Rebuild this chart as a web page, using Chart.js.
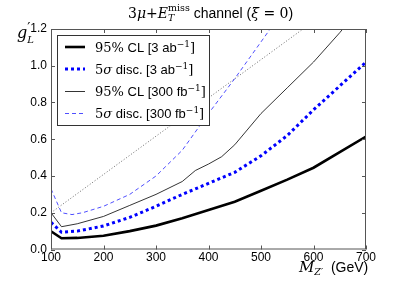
<!DOCTYPE html>
<html><head><meta charset="utf-8">
<script src="https://cdn.jsdelivr.net/npm/chart.js@4"></script>
<style>html,body{margin:0;padding:0;background:#fff}canvas{display:block}</style>
</head><body>
<canvas id="c" width="407" height="285"></canvas>
<script>
// ---- data (M_Z' in GeV, g'_L) ----
const massesCL3 = [100,120,150,200,250,300,350,400,450,500,550,600,650,700];
const cl3ab     = [0.099,0.061,0.063,0.075,0.10,0.13,0.17,0.215,0.26,0.32,0.38,0.445,0.53,0.615];
const massesDisc3 = [100,120,150,200,250,300,350,400,450,500,550,600,650,700];
const disc3ab   = [0.148,0.094,0.10,0.128,0.175,0.235,0.30,0.36,0.42,0.51,0.62,0.76,0.89,1.02];
const massesCL300 = [100,120,150,200,250,300,350,375,400,425,450,500,550,600,650,670];
const cl300fb   = [0.20,0.124,0.14,0.18,0.24,0.30,0.37,0.43,0.465,0.505,0.57,0.74,0.88,1.02,1.18,1.25];
const massesDisc300 = [100,120,140,160,200,250,300,350,400,450,500,525];
const disc300fb = [0.33,0.20,0.19,0.20,0.235,0.30,0.40,0.54,0.74,0.93,1.13,1.23];
const massesRef = [100,580];
const refLine   = [0.2,1.2];
const xTicks = [100,200,300,400,500,600,700];
const yTicks = [0.0,0.2,0.4,0.6,0.8,1.0,1.2];

const SANS = '"Liberation Sans", Arial, sans-serif';
const SERIF = '"DejaVu Serif", "Liberation Serif", serif';

function pts(xs, ys){ return xs.map((x,i)=>({x:x, y:ys[i]})); }

const series = [
  {label:'95% CL [3 ab⁻¹]', data:pts(massesCL3,cl3ab), borderColor:'#000', borderWidth:2.6, borderDash:[]},
  {label:'5σ disc. [3 ab⁻¹]', data:pts(massesDisc3,disc3ab), borderColor:'#0000ff', borderWidth:3, borderDash:[3,3]},
  {label:'95% CL [300 fb⁻¹]', data:pts(massesCL300,cl300fb), borderColor:'#000', borderWidth:0.8, borderDash:[]},
  {label:'5σ disc. [300 fb⁻¹]', data:pts(massesDisc300,disc300fb), borderColor:'#2222ff', borderWidth:0.8, borderDash:[4,3]},
  {label:'', data:pts(massesRef,refLine), borderColor:'#444', borderWidth:0.8, borderDash:[1,2]}
];

// rich text: segs = [{t, f, dy, back}]
function rich(ctx, x, y, segs){
  let cx = x, lastStart = x;
  segs.forEach(s=>{
    ctx.font = s.f;
    const w = ctx.measureText(s.t).width;
    let sx = s.back ? lastStart : cx;
    ctx.fillText(s.t, sx, y + (s.dy||0));
    if (s.back){ cx = Math.max(cx, sx + w); }
    else { lastStart = sx; cx = sx + w; }
  });
  return cx;
}

const deco = {
  id:'deco',
  afterDraw(chart){
    const ctx = chart.ctx, a = chart.chartArea;
    const xs = chart.scales.x, ys = chart.scales.y;
    ctx.save();
    ctx.strokeStyle = '#555'; ctx.lineWidth = 1; ctx.setLineDash([]);
    ctx.strokeRect(a.left+0.5, a.top+0.5, a.right-a.left-1, a.bottom-a.top-1);
    ctx.beginPath();
    xTicks.forEach(v=>{
      const px = Math.round(xs.getPixelForValue(v))+0.5;
      ctx.moveTo(px, a.bottom); ctx.lineTo(px, a.bottom-4);
      ctx.moveTo(px, a.top); ctx.lineTo(px, a.top+4);
    });
    yTicks.forEach(v=>{
      const py = Math.round(ys.getPixelForValue(v))+0.5;
      ctx.moveTo(a.left, py); ctx.lineTo(a.left+4, py);
      ctx.moveTo(a.right, py); ctx.lineTo(a.right-4, py);
    });
    ctx.stroke();

    ctx.fillStyle = '#000'; ctx.textBaseline = 'alphabetic'; ctx.textAlign = 'left';
    // title
    rich(ctx, 128, 18, [
      {t:'3', f:'14px '+SERIF},
      {t:'μ', f:'italic 14px '+SERIF},
      {t:'+', f:'14px '+SERIF},
      {t:'E', f:'italic 14px '+SERIF},
      {t:'T', f:'italic 9.5px '+SERIF, dy:3},
      {t:'miss', f:'9.5px '+SERIF, dy:-7, back:true},
      {t:' channel (', f:'14px '+SANS},
      {t:'ξ', f:'italic 14px '+SERIF},
      {t:' = 0', f:'14px '+SERIF},
      {t:')', f:'14px '+SANS}
    ]);
    // y label
    rich(ctx, 17, 38, [
      {t:'g', f:'italic 16px '+SERIF},
      {t:'′', f:'14px '+SERIF, dy:-5},
      {t:'L', f:'italic 10px '+SERIF, dy:5, back:true}
    ]);
    // x label
    rich(ctx, 299, 272, [
      {t:'M', f:'italic 15px '+SERIF},
      {t:'Z′', f:'italic 9.5px '+SERIF, dy:3},
      {t:'  (GeV)', f:'14px '+SANS}
    ]);

    // legend
    ctx.fillStyle = '#fff';
    ctx.fillRect(57, 35, 152, 90);
    ctx.strokeStyle = '#333'; ctx.lineWidth = 1;
    ctx.strokeRect(57.5, 35.5, 152, 90);
    const rowsY = [47, 69, 91.5, 113.5];
    const F = 13, FS = 9;
    const labels = [
      [{t:'95%', f:F+'px '+SERIF},{t:' CL [3 ab', f:F+'px '+SANS},{t:'−1', f:FS+'px '+SERIF, dy:-5},{t:']', f:F+'px '+SERIF}],
      [{t:'5', f:F+'px '+SERIF},{t:'σ', f:'italic '+F+'px '+SERIF},{t:' disc. [3 ab', f:F+'px '+SANS},{t:'−1', f:FS+'px '+SERIF, dy:-5},{t:']', f:F+'px '+SERIF}],
      [{t:'95%', f:F+'px '+SERIF},{t:' CL [300 fb', f:F+'px '+SANS},{t:'−1', f:FS+'px '+SERIF, dy:-5},{t:']', f:F+'px '+SERIF}],
      [{t:'5', f:F+'px '+SERIF},{t:'σ', f:'italic '+F+'px '+SERIF},{t:' disc. [300 fb', f:F+'px '+SANS},{t:'−1', f:FS+'px '+SERIF, dy:-5},{t:']', f:F+'px '+SERIF}]
    ];
    rowsY.forEach((ry,i)=>{
      const ds = series[i];
      ctx.beginPath();
      ctx.strokeStyle = ds.borderColor; ctx.lineWidth = ds.borderWidth; ctx.setLineDash(ds.borderDash);
      ctx.moveTo(65, ry); ctx.lineTo(85, ry); ctx.stroke();
      ctx.setLineDash([]);
      ctx.fillStyle = '#000';
      rich(ctx, 95, ry+4.5, labels[i]);
    });
    ctx.restore();
  }
};

new Chart(document.getElementById('c'), {
  type:'line',
  data:{ datasets: series.map(s=>({
    label:s.label, data:s.data, borderColor:s.borderColor, borderWidth:s.borderWidth,
    borderDash:s.borderDash, pointRadius:0, fill:false, tension:0
  }))},
  options:{
    responsive:false, animation:false, devicePixelRatio:1,
    layout:{padding:{top:29, right:41, left:0, bottom:0}},
    plugins:{legend:{display:false}, title:{display:false}, tooltip:{enabled:false}},
    scales:{
      x:{type:'linear', min:100, max:700,
        afterBuildTicks:s=>{ s.ticks = xTicks.map(v=>({value:v})); },
        ticks:{font:{family:SANS, size:12}, color:'#000', padding:1, maxRotation:0, callback:v=>String(v)},
        grid:{display:false, drawTicks:false}, border:{display:false},
        afterFit:s=>{ s.height = 35.5; }
      },
      y:{min:0, max:1.2,
        afterBuildTicks:s=>{ s.ticks = yTicks.map(v=>({value:v})); },
        ticks:{font:{family:SANS, size:12}, color:'#000', padding:4, callback:v=>Number(v).toFixed(1)},
        grid:{display:false, drawTicks:false}, border:{display:false},
        afterFit:s=>{ s.width = 51; }
      }
    }
  },
  plugins:[deco]
});
</script>
</body></html>
